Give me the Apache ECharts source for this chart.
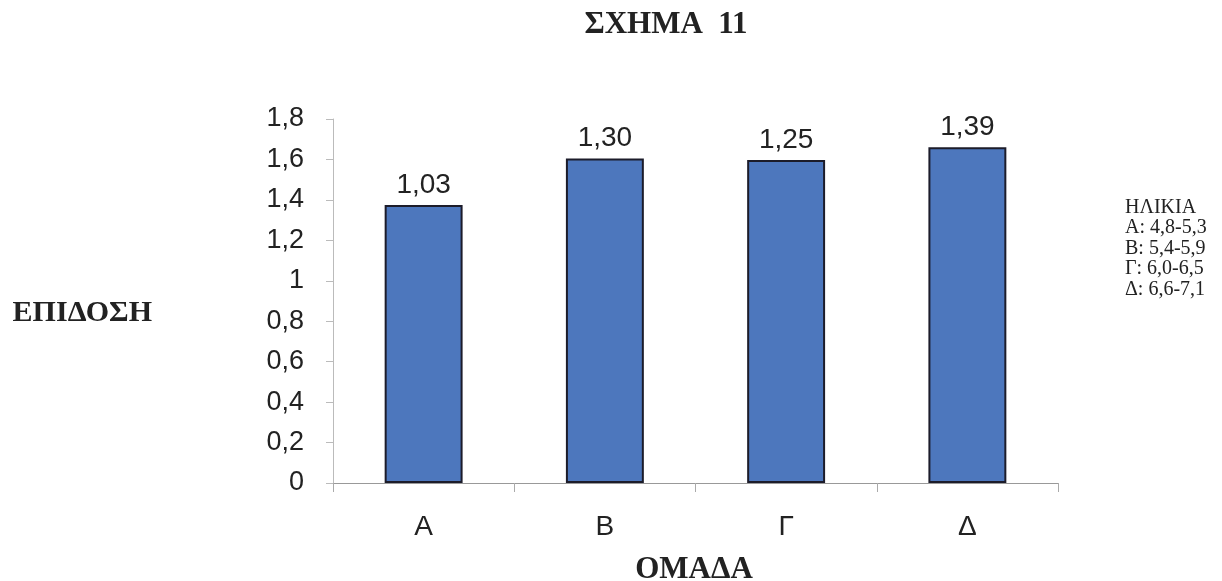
<!DOCTYPE html>
<html><head><meta charset="utf-8">
<script src="https://cdn.jsdelivr.net/npm/echarts@6/dist/echarts.min.js"></script>
<style>html,body{margin:0;padding:0;background:#fff}#c{width:1222px;height:581px}</style>
</head><body><div id="c"></div>
<script>
const categories = ['Α', 'Β', 'Γ', 'Δ'];
const barValues = [1.375, 1.605, 1.597, 1.66];
const barLabels = ['1,03', '1,30', '1,25', '1,39'];
const yTicks = [0, 0.2, 0.4, 0.6, 0.8, 1, 1.2, 1.4, 1.6, 1.8];
const legendLines = ['ΗΛΙΚΙΑ', 'Α: 4,8-5,3', 'Β: 5,4-5,9', 'Γ: 6,0-6,5', 'Δ: 6,6-7,1'];

const chart = echarts.init(document.getElementById('c'));
const serif = '"Liberation Serif", "DejaVu Serif", serif';
const sans = '"Liberation Sans", Arial, sans-serif';
chart.setOption({
  animation: false,
  backgroundColor: '#fff',
  graphic: [
    {type: 'text', style: {text: 'ΣΧΗΜΑ  11', x: 666, y: 25, textAlign: 'center', textVerticalAlign: 'middle', font: 'bold 31px ' + serif, fill: '#222'}},
    {type: 'text', style: {text: 'ΕΠΙΔΟΣΗ', x: 152, y: 313, textAlign: 'right', textVerticalAlign: 'middle', font: 'bold 30px ' + serif, fill: '#222'}},
    {type: 'text', style: {text: 'ΟΜΑΔΑ', x: 694, y: 570, textAlign: 'center', textVerticalAlign: 'middle', font: 'bold 31px ' + serif, fill: '#222'}},
    {type: 'text', style: {text: legendLines.join('\n'), x: 1125, y: 197, textAlign: 'left', textVerticalAlign: 'top', font: '20px ' + serif, lineHeight: 20.5, fill: '#222'}}
  ],
  grid: {left: 333, right: 164, top: 119, bottom: 98, containLabel: false},
  xAxis: {
    type: 'category', data: categories,
    axisLine: {lineStyle: {color: '#999', width: 1}},
    axisTick: {show: true, length: 9, lineStyle: {color: '#aaa'}},
    axisLabel: {fontFamily: sans, fontSize: 28, color: '#222', margin: 30}
  },
  yAxis: {
    type: 'value', min: 0, max: 1.8, interval: 0.2,
    axisLine: {show: true, lineStyle: {color: '#bbb'}},
    axisTick: {show: true, length: 7, lineStyle: {color: '#bbb'}},
    splitLine: {show: false},
    axisLabel: {fontFamily: sans, fontSize: 27, color: '#222', margin: 29,
      formatter: v => { const t = yTicks.find(x => Math.abs(x - v) < 1e-6); return (t === undefined ? v : t).toString().replace('.', ','); }}
  },
  series: [{
    type: 'bar', data: barValues, barWidth: '43%',
    itemStyle: {color: '#4d77bd', borderColor: '#1c1c2a', borderWidth: 2},
    label: {show: true, position: 'top', distance: 6, fontFamily: sans, fontSize: 28, color: '#222',
      formatter: p => barLabels[p.dataIndex]}
  }]
});
</script></body></html>
